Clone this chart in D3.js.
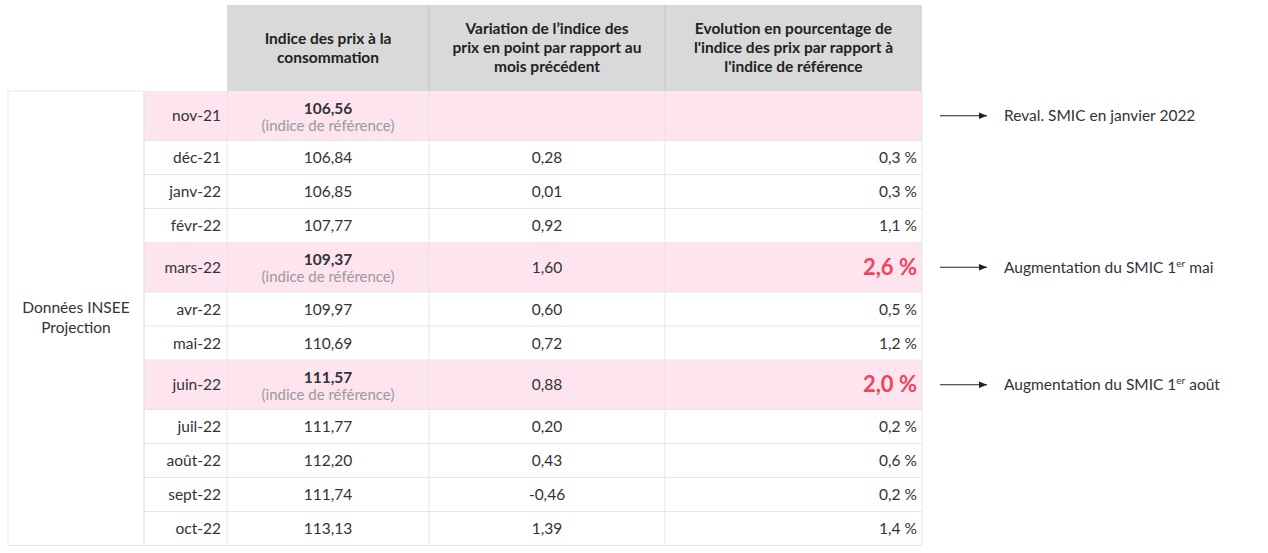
<!DOCTYPE html>
<html><head><meta charset="utf-8">
<script src="https://cdn.jsdelivr.net/npm/d3@7"></script>
<style>body{margin:0;background:#fff}text{font-family:Lato,"Open Sans",sans-serif}</style>
</head><body><svg id="c" width="1268" height="553"></svg>
<script>
const months = ["nov-21","déc-21","janv-22","févr-22","mars-22","avr-22","mai-22","juin-22","juil-22","août-22","sept-22","oct-22"];
const ipc = ["106,56","106,84","106,85","107,77","109,37","109,97","110,69","111,57","111,77","112,20","111,74","113,13"];
const variation = ["","0,28","0,01","0,92","1,60","0,60","0,72","0,88","0,20","0,43","-0,46","1,39"];
const evolution = ["","0,3 %","0,3 %","1,1 %","2,6 %","0,5 %","1,2 %","2,0 %","0,2 %","0,6 %","0,2 %","1,4 %"];
const reference = [true,false,false,false,true,false,false,true,false,false,false,false];
const notes = ["Reval. SMIC en janvier 2022","","","","Augmentation du SMIC 1|er| mai","","","Augmentation du SMIC 1|er| août","","","",""];
const headers = [["Indice des prix à la","consommation"],["Variation de l’indice des","prix en point par rapport au","mois précédent"],["Evolution en pourcentage de","l'indice des prix par rapport à","l'indice de référence"]];
const groupLabel = ["Données INSEE","Projection"];

const svg = d3.select("#c");
const colX = [8,144,227,429,665,922];
const yTop = 91, hdrTop = 5;
const rows = months.map((m,i)=>({m,i,h: reference[i]?49.5:34}));
let acc = yTop; rows.forEach(r=>{r.y=acc; acc+=r.h;});
const yBottom = acc;
const grey="#d9d9d9", pink="#fde4ee", line="#e6e6e6", red="#f0435e", txt="#333";

svg.append("defs").append("marker").attr("id","ar").attr("viewBox","0 0 10 10").attr("refX",10).attr("refY",5).attr("markerWidth",8).attr("markerHeight",8).attr("orient","auto")
  .append("path").attr("d","M0,1L10,5L0,9z").attr("fill","#222");

// header
svg.append("rect").attr("x",colX[2]).attr("y",hdrTop).attr("width",colX[5]-colX[2]).attr("height",yTop-hdrTop).attr("fill",grey);
headers.forEach((h,j)=>{
  const cx=(colX[j+2]+colX[j+3])/2, n=h.length;
  h.forEach((l,k)=>svg.append("text").attr("x",cx).attr("y",(hdrTop+yTop)/2+(k-(n-1)/2)*19+5)
    .attr("text-anchor","middle").attr("font-size",15.5).attr("font-weight","bold").attr("fill","#222").text(l));
  if(j>0) svg.append("line").attr("x1",colX[j+2]).attr("x2",colX[j+2]).attr("y1",hdrTop).attr("y2",yTop).attr("stroke","#c4c4c4");
});
// rows
const g = svg.selectAll("g.r").data(rows).join("g").attr("class","r");
g.filter(d=>reference[d.i]).append("rect").attr("x",colX[1]).attr("y",d=>d.y).attr("width",colX[5]-colX[1]).attr("height",d=>d.h).attr("fill",pink);
g.append("line").attr("x1",colX[1]).attr("x2",colX[5]).attr("y1",d=>d.y+d.h).attr("y2",d=>d.y+d.h).attr("stroke",line);
g.append("text").attr("x",colX[2]-6).attr("y",d=>d.y+d.h/2+5.5).attr("text-anchor","end").attr("font-size",15.5).attr("fill",txt).text(d=>d.m);
const c2=(colX[2]+colX[3])/2;
g.append("text").attr("x",c2).attr("y",d=>reference[d.i]?d.y+d.h/2-2:d.y+d.h/2+5.5).attr("text-anchor","middle")
  .attr("font-size",15.5).attr("font-weight",d=>reference[d.i]?"bold":"normal").attr("fill",txt).text(d=>ipc[d.i]);
g.filter(d=>reference[d.i]).append("text").attr("x",c2).attr("y",d=>d.y+d.h/2+15).attr("text-anchor","middle").attr("font-size",15).attr("fill","#9a9a9a").text("(indice de référence)");
g.append("text").attr("x",(colX[3]+colX[4])/2).attr("y",d=>d.y+d.h/2+5.5).attr("text-anchor","middle").attr("font-size",15.5).attr("fill",txt).text(d=>variation[d.i]);
g.append("text").attr("x",colX[5]-5).attr("y",d=>d.y+d.h/2+(reference[d.i]&&d.i?7.5:5.5)).attr("text-anchor","end")
  .attr("font-size",d=>reference[d.i]&&d.i?22:15.5).attr("font-weight",d=>reference[d.i]&&d.i?"bold":"normal")
  .attr("fill",d=>reference[d.i]&&d.i?red:txt).text(d=>evolution[d.i]);
// vertical lines
[colX[1],colX[2],colX[3],colX[4],colX[5]].forEach(x=>svg.append("line").attr("x1",x).attr("x2",x).attr("y1",yTop).attr("y2",yBottom).attr("stroke",line));
svg.append("rect").attr("x",colX[0]).attr("y",yTop).attr("width",colX[1]-colX[0]).attr("height",yBottom-yTop).attr("fill","none").attr("stroke",line);
groupLabel.forEach((l,k)=>svg.append("text").attr("x",(colX[0]+colX[1])/2).attr("y",(yTop+yBottom)/2+(k-0.5)*20+5).attr("text-anchor","middle").attr("font-size",15.5).attr("fill",txt).text(l));
// notes
const nt = g.filter(d=>notes[d.i]);
nt.append("line").attr("x1",940).attr("x2",987).attr("y1",d=>d.y+d.h/2).attr("y2",d=>d.y+d.h/2).attr("stroke","#222").attr("marker-end","url(#ar)");
nt.append("text").attr("x",1004).attr("y",d=>d.y+d.h/2+5.5).attr("font-size",15.5).attr("fill",txt).each(function(d){
  const parts=notes[d.i].split("|"); const t=d3.select(this);
  parts.forEach((p,k)=>{const s=t.append("tspan").text(p); if(k===1) s.attr("font-size",10).attr("dy",-6); if(k===2) s.attr("dy",6);});
});
</script></body></html>
